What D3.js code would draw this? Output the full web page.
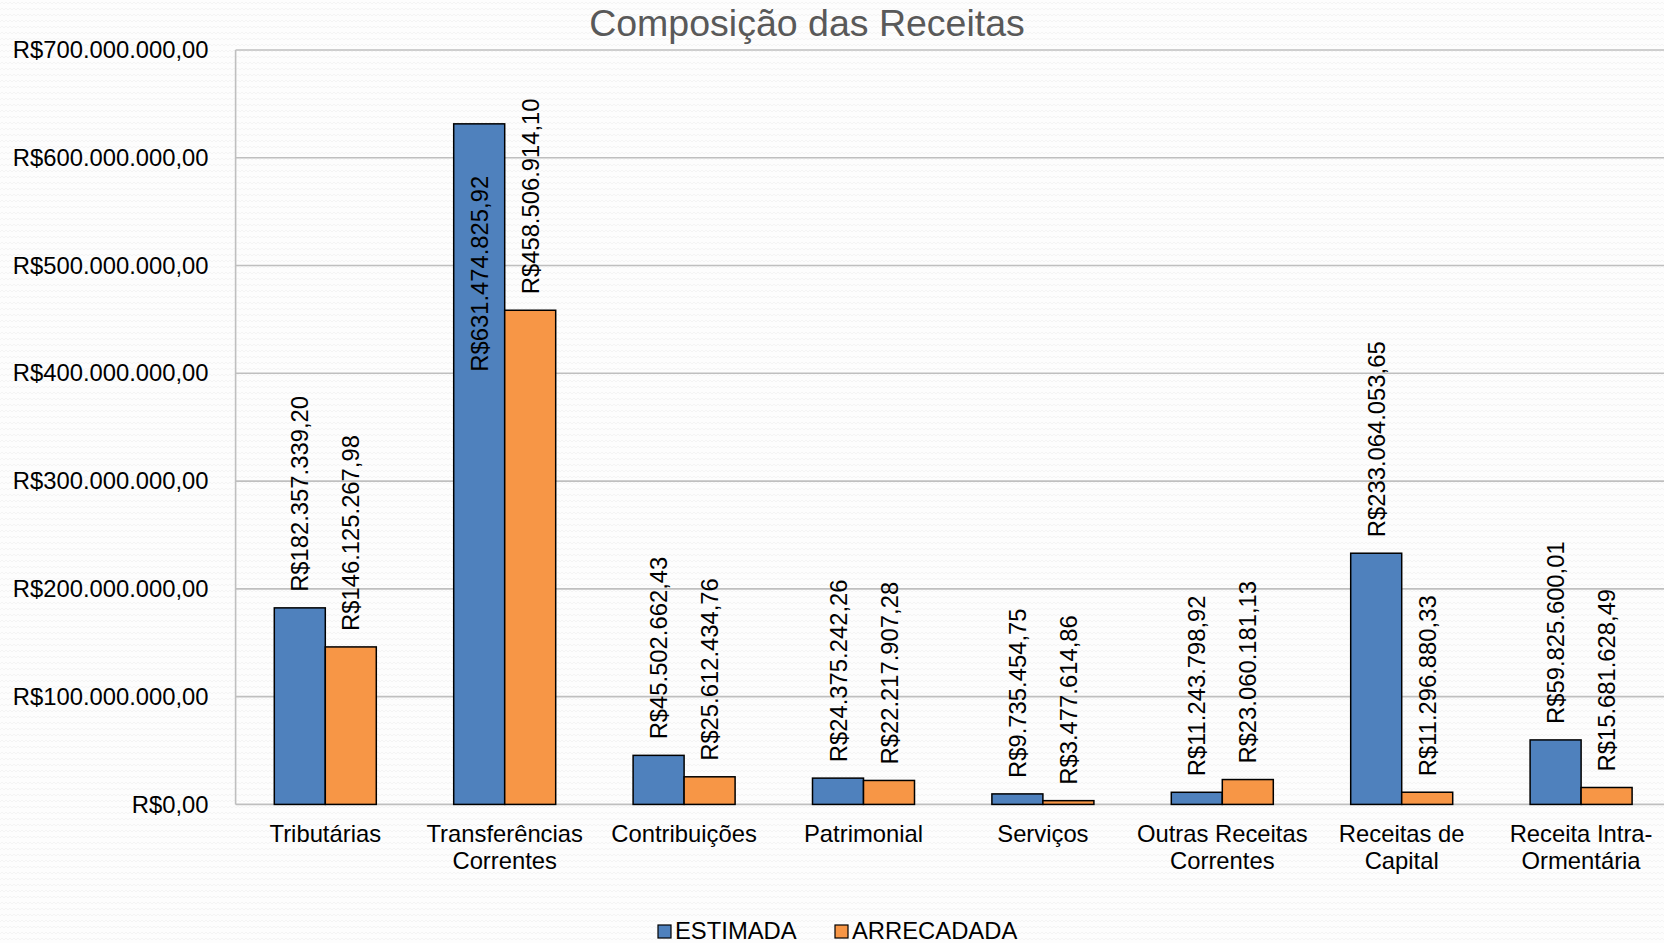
<!DOCTYPE html>
<html><head><meta charset="utf-8">
<script src="https://cdn.jsdelivr.net/npm/d3@7"></script>
<style>
html,body{margin:0;padding:0;background:#fcfcfc;overflow:hidden}
text{font-family:"Liberation Sans",Arial,sans-serif}
</style></head>
<body><svg id="c" width="1664" height="943"></svg>
<script>
const categories = ["Tributárias","Transferências\nCorrentes","Contribuições","Patrimonial","Serviços","Outras Receitas\nCorrentes","Receitas de\nCapital","Receita Intra-\nOrmentária"];
const estimada = [182357339.20, 631474825.92, 45502662.43, 24375242.26, 9735454.75, 11243798.92, 233064053.65, 59825600.01];
const arrecadada = [146125267.98, 458506914.10, 25612434.76, 22217907.28, 3477614.86, 23060181.13, 11296880.33, 15681628.49];
const seriesNames = ["ESTIMADA","ARRECADADA"];
const yTicks = [0,100000000,200000000,300000000,400000000,500000000,600000000,700000000];
const title = "Composição das Receitas";

const colors = ["#4F81BD","#F79646"];
const svg = d3.select("#c");
const W = 1664, H = 943;
const plotL = 235.6, plotT = 50, plotB = 804.4, band = 179.4;
const fs = 23.8;

// background pattern
const defs = svg.append("defs");
const pat = defs.append("pattern").attr("id","bg").attr("width",8).attr("height",6).attr("patternUnits","userSpaceOnUse");
pat.append("rect").attr("width",8).attr("height",6).attr("fill","#fdfdfd");
pat.append("path").attr("d","M0,4 L2,2 L4,4 L6,2 L8,4").attr("fill","none").attr("stroke","#f1f1f1").attr("stroke-width",0.8);
svg.append("rect").attr("width",W).attr("height",H).attr("fill","url(#bg)");

const loc = d3.formatLocale({decimal:",",thousands:".",grouping:[3],currency:["R$",""]});
const fmt = loc.format("$,.2f");

const x = d3.scaleBand().domain(categories).range([plotL, plotL + band*categories.length]).padding(0);
const y = d3.scaleLinear().domain([0,700000000]).range([plotB, plotT]);
const barW = 51;

// gridlines
svg.append("g").selectAll("line").data(yTicks).join("line")
  .attr("x1",plotL).attr("x2",W).attr("y1",d=>y(d)).attr("y2",d=>y(d))
  .attr("stroke","#bfbfbf").attr("stroke-width",1.6);
svg.append("line").attr("x1",plotL).attr("x2",plotL).attr("y1",plotT).attr("y2",plotB)
  .attr("stroke","#bfbfbf").attr("stroke-width",1.6);

// y axis labels
const yAxis = d3.axisLeft(y).tickValues(yTicks).tickFormat(fmt).tickSize(0).tickPadding(27);
const ga = svg.append("g").attr("transform",`translate(${plotL},0)`).call(yAxis);
ga.select(".domain").remove();
ga.selectAll("text").attr("font-size",fs).attr("fill","#000").attr("font-family","Liberation Sans, Arial, sans-serif");

// bars
const series = [estimada, arrecadada];
series.forEach((vals,si)=>{
  svg.append("g").selectAll("rect").data(vals).join("rect")
    .attr("x",(d,i)=>x(categories[i]) + band/2 - barW + si*barW)
    .attr("y",d=>y(d)).attr("width",barW).attr("height",d=>plotB - y(d))
    .attr("fill",colors[si]).attr("stroke","#000").attr("stroke-width",1.5);
});

// data labels
series.forEach((vals,si)=>{
  const g = svg.append("g");
  vals.forEach((v,i)=>{
    const cx = x(categories[i]) + band/2 - barW/2 + si*barW;
    const t = g.append("text").text(fmt(v)).attr("font-size",fs).attr("fill","#000")
      .attr("dominant-baseline","central");
    const len = t.node().getComputedTextLength();
    let start = y(v) - 16;
    if (start - len < plotT) start = y(v) + 52 + len;
    t.attr("transform",`translate(${cx},${start}) rotate(-90)`);
  });
});

// category labels
const gc = svg.append("g");
categories.forEach(c=>{
  const lines = c.split("\n");
  const t = gc.append("text").attr("text-anchor","middle").attr("font-size",fs).attr("fill","#000");
  lines.forEach((ln,k)=>{
    t.append("tspan").attr("x",x(c)+band/2).attr("y",plotB + 38 + k*27).text(ln);
  });
});

// title
svg.append("text").attr("x",807).attr("y",36).attr("text-anchor","middle")
  .attr("font-size",37.5).attr("fill","#595959").text(title);

// legend
const lg = svg.append("g");
const legX = [658, 835];
seriesNames.forEach((n,i)=>{
  lg.append("rect").attr("x",legX[i]).attr("y",925).attr("width",13).attr("height",13)
    .attr("fill",colors[i]).attr("stroke","#000").attr("stroke-width",1.2);
  lg.append("text").attr("x",legX[i]+17).attr("y",939).attr("font-size",fs).attr("fill","#000").text(n);
});
</script></body></html>
